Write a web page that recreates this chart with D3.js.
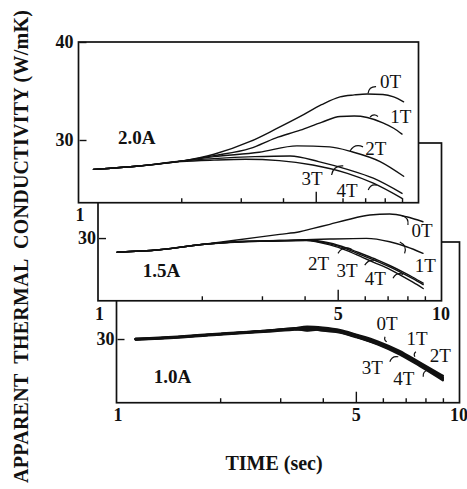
<!DOCTYPE html>
<html><head><meta charset="utf-8">
<script src="https://cdn.jsdelivr.net/npm/d3@7"></script>
<style>body{margin:0;background:#fff}svg{display:block}</style>
</head><body><svg id="c" width="467" height="489"></svg>
<script>
// ---------------- data ----------------
const seriesNames = ["0T","1T","2T","3T","4T"];
const panelNames = ["2.0A","1.5A","1.0A"];
const xDomain = [1,10];
const xMinorTicks = [2,3,4,6,7,8,9];
const xMajorTicks = [5];
const xTickLabels20 = [1];
const xTickLabels15 = [1,5,10];
const xTickLabels10 = [1,5,10];
const yTickLabels20 = [40,30];
const yTickLabels15 = [30];
const yTickLabels10 = [30];
const yDomain20 = [23.6,40];
const yDomain15 = [23.6,39.7];
const yDomain10 = [23.5,39.9];
const xTitle = "TIME (sec)";
const yTitle = "APPARENT  THERMAL  CONDUCTIVITY (W/mK)";

// 2.0A panel  [time (s), conductivity]
const c20_0T = [[1.1,27.0],[1.5,27.35],[2.0,27.85],[2.5,28.55],[3.2,29.85],[3.8,31.1],[4.5,32.4],[5.2,33.6],[5.9,34.4],[6.5,34.6],[7.1,34.7],[7.9,34.65],[8.5,34.4],[9.1,33.9]];
const c20_1T = [[1.1,27.0],[1.5,27.35],[2.0,27.85],[2.5,28.4],[3.2,29.15],[3.8,30.2],[4.5,31.0],[5.2,31.8],[5.9,32.4],[6.5,32.45],[7.1,32.3],[7.9,31.75],[8.5,31.2],[9.0,30.6]];
const c20_2T = [[1.1,27.0],[1.5,27.35],[2.0,27.85],[2.5,28.3],[3.4,28.75],[4.4,29.4],[5.5,29.3],[6.4,28.8],[7.75,27.8],[9.1,26.3]];
const c20_3T = [[1.1,27.0],[1.5,27.35],[2.0,27.85],[2.5,28.1],[3.3,28.3],[4.2,28.37],[5.1,27.8],[6.2,27.0],[7.4,26.1],[9.0,24.55]];
const c20_4T = [[1.1,27.0],[1.5,27.35],[2.0,27.8],[2.5,27.95],[3.1,28.03],[3.9,27.9],[4.9,27.45],[6.2,26.6],[7.4,25.6],[9.0,24.05]];

// 1.5A panel
const c15_0T = [[1.13,28.55],[1.5,28.8],[2.0,29.35],[2.47,29.75],[3.38,30.38],[3.87,30.64],[4.24,30.99],[4.74,31.4],[5.3,31.84],[6.21,32.35],[7.1,32.45],[7.95,32.17],[8.89,31.66]];
const c15_1T = [[1.13,28.55],[1.5,28.8],[2.0,29.35],[2.6,29.62],[3.38,29.7],[3.87,29.8],[4.74,29.9],[6.07,29.97],[7.1,29.62],[7.95,29.11],[8.89,28.44]];
const c15_2T = [[1.13,28.55],[1.5,28.8],[2.0,29.35],[2.6,29.65],[3.38,29.75],[4.05,29.8],[4.74,29.5],[5.3,29.0],[5.93,28.35],[6.5,27.8],[7.1,27.2],[7.7,26.6],[8.3,26.0],[8.9,25.4]];
const c15_3T = [[1.13,28.55],[1.5,28.8],[2.0,29.35],[2.6,29.65],[3.38,29.75],[4.05,29.78],[4.74,29.4],[5.3,28.9],[5.93,28.2],[6.5,27.65],[7.1,27.05],[7.7,26.45],[8.3,25.85],[8.9,25.25]];
const c15_4T = [[1.13,28.55],[1.5,28.8],[2.0,29.35],[2.6,29.6],[3.38,29.72],[4.05,29.75],[4.74,29.3],[5.3,28.75],[5.93,28.0],[6.5,27.4],[7.1,26.8],[7.7,26.15],[8.3,25.5],[8.9,24.85]];

// 1.0A panel
const c10_0T = [[1.13,30.0],[1.5,30.25],[2.0,30.55],[2.6,30.8],[3.3,31.1],[3.6,31.25],[4.0,31.15],[4.5,30.9],[5.0,30.45],[5.8,29.75],[6.7,28.8],[7.7,27.6],[9.0,26.25]];
const c10_1T = [[1.13,30.0],[1.5,30.2],[2.0,30.5],[2.6,30.75],[3.3,31.05],[3.6,30.85],[4.0,31.0],[4.5,30.8],[5.0,30.4],[5.8,29.65],[6.7,28.7],[7.7,27.5],[9.0,26.1]];
const c10_2T = [[1.13,30.0],[1.5,30.2],[2.0,30.5],[2.6,30.8],[3.3,31.0],[3.6,31.2],[4.0,30.9],[4.5,30.75],[5.0,30.35],[5.8,29.6],[6.7,28.65],[7.7,27.45],[9.0,26.0]];
const c10_3T = [[1.13,29.95],[1.5,30.2],[2.0,30.5],[2.6,30.75],[3.3,31.0],[3.6,30.9],[4.0,31.1],[4.5,30.7],[5.0,30.25],[5.8,29.5],[6.7,28.55],[7.7,27.35],[9.0,25.9]];
const c10_4T = [[1.13,29.95],[1.5,30.15],[2.0,30.45],[2.6,30.7],[3.3,30.95],[3.6,31.1],[4.0,30.85],[4.5,30.65],[5.0,30.2],[5.8,29.45],[6.7,28.45],[7.7,27.25],[9.0,25.8]];

// curve labels: [text, tText, vText, tFrom, vFrom, tTo, vTo]
const labels20 = [
  ["0T",7.75,35.3, 7.14,34.75, 7.54,35.45],
  ["1T",8.30,31.73, 7.24,32.35, 7.64,32.4],
  ["2T",7.0,28.47, 6.31,28.85, 6.9,29.3],
  ["3T",4.54,25.4, 5.57,26.43, 6.03,27.35],
  ["4T",5.76,24.2, 7.15,24.9, 7.58,25.4]
];
const labels15 = [
  ["0T",8.22,30.07, 7.69,32.3, 8.03,31.33],
  ["1T",8.41,26.56, 7.60,29.6, 7.85,28.44],
  ["2T",4.09,26.73, 5.01,28.44, 5.49,28.85],
  ["3T",4.96,26.05, 6.0,27.24, 6.56,27.6],
  ["4T",6.0,25.2, 7.26,25.89, 7.77,26.3]
];
const labels10 = [
  ["0T",5.75,30.92, 6.16,29.72, 6.09,30.23],
  ["1T",7.04,29.39, 7.45,28.19, 7.5,28.7],
  ["2T",8.24,27.68, null,null,null,null],
  ["3T",5.2,26.43, 6.29,27.68, 6.66,28.19],
  ["4T",6.44,25.31, 7.88,26.15, 8.15,26.84]
];
// panel name positions [t, v]
const nameAt20 = [1.30,29.59];
const nameAt15 = [1.344,26.05];
const nameAt10 = [1.277,25.48];

// ---------------- drawing ----------------
const svg = d3.select("#c");
const serif = "'Liberation Serif','Times New Roman',serif";
const ink = "#111";
const PX_PER_UNIT = 9.8;

const panels = [
  {name:panelNames[0], x0:79.5, w:338, top:42, yDom:yDomain20, series:[c20_0T,c20_1T,c20_2T,c20_3T,c20_4T], labels:labels20, xLab:xTickLabels20, yLab:yTickLabels20, yPad:6, sw:1.4, nameAt:nameAt20},
  {name:panelNames[1], x0:99, w:341.5, top:143, yDom:yDomain15, series:[c15_0T,c15_1T,c15_2T,c15_3T,c15_4T], labels:labels15, xLab:xTickLabels15, yLab:yTickLabels15, yPad:3, sw:1.4, nameAt:nameAt15},
  {name:panelNames[2], x0:117.5, w:341, top:242, yDom:yDomain10, series:[c10_0T,c10_1T,c10_2T,c10_3T,c10_4T], labels:labels10, xLab:xTickLabels10, yLab:yTickLabels10, yPad:3, sw:2.3, nameAt:nameAt10}
];

function styleAxis(sel){
  sel.select(".domain").remove();
  sel.selectAll("line").attr("stroke",ink).attr("stroke-width",1.4);
  sel.selectAll("text").attr("fill",ink).attr("font-family",serif)
     .attr("font-weight","bold").attr("font-size",18);
}

// draw bottom panel first so upper panels overlap it
panels.slice().reverse().forEach(p => {
  const h = (p.yDom[1]-p.yDom[0])*PX_PER_UNIT;
  const x = d3.scaleLog().domain(xDomain).range([0,p.w]);
  const y = d3.scaleLinear().domain(p.yDom).range([h,0]);
  const g = svg.append("g").attr("transform",`translate(${p.x0},${p.top})`);

  g.append("rect").attr("x",-1).attr("y",0).attr("width",p.w+2).attr("height",h)
    .attr("fill","#fff").attr("stroke",ink).attr("stroke-width",1.7);

  g.append("g").attr("transform",`translate(0,${h})`)
    .call(d3.axisBottom(x).tickValues(xMinorTicks).tickSize(-4.5).tickFormat(""))
    .call(styleAxis);
  g.append("g").attr("transform",`translate(0,${h})`)
    .call(d3.axisBottom(x).tickValues(xMajorTicks).tickSize(-11).tickFormat(""))
    .call(styleAxis);
  g.append("g").attr("transform",`translate(0,${h})`)
    .call(d3.axisBottom(x).tickValues(p.xLab).tickSize(0).tickPadding(6).tickFormat(d3.format("d")))
    .call(styleAxis);
  g.append("g")
    .call(d3.axisLeft(y).tickValues(p.yLab).tickSize(-7).tickPadding(p.yPad).tickFormat(d3.format("d")))
    .call(styleAxis);

  const line = d3.line().x(d=>x(d[0])).y(d=>y(d[1])).curve(d3.curveMonotoneX);
  g.selectAll("path.curve").data(p.series).join("path").attr("class","curve")
    .attr("d",line).attr("fill","none").attr("stroke",ink)
    .attr("stroke-width",p.sw).attr("stroke-linecap","round").attr("stroke-linejoin","round");

  p.labels.forEach(l => {
    g.append("text").attr("x",x(l[1])).attr("y",y(l[2])).text(l[0])
      .attr("font-family",serif).attr("font-size",19).attr("fill",ink);
    if (l[3] !== null) {
      const sx=x(l[3]), sy=y(l[4]), ex=x(l[5]), ey=y(l[6]);
      const mx=(sx+ex)/2, my=(sy+ey)/2, dx=ex-sx, dy=ey-sy;
      const cx=mx+dy*0.45, cy=my-dx*0.45;
      g.append("path").attr("d",`M${sx},${sy}Q${cx},${cy} ${ex},${ey}`)
        .attr("fill","none").attr("stroke",ink).attr("stroke-width",1.2);
    }
  });

  g.append("text").attr("x",x(p.nameAt[0])).attr("y",y(p.nameAt[1])).text(p.name)
    .attr("font-family",serif).attr("font-weight","bold").attr("font-size",19).attr("fill",ink);
});

svg.append("text").attr("x",274).attr("y",470).attr("text-anchor","middle")
  .attr("font-family",serif).attr("font-weight","bold").attr("font-size",20).attr("fill",ink)
  .text(xTitle);

svg.append("text").attr("transform","translate(28,246.5) rotate(-90)")
  .attr("text-anchor","middle").attr("font-family",serif).attr("font-weight","bold")
  .attr("font-size",20).attr("fill",ink).attr("textLength",473).attr("lengthAdjust","spacing")
  .attr("xml:space","preserve").style("white-space","pre")
  .text(yTitle);
</script></body></html>
